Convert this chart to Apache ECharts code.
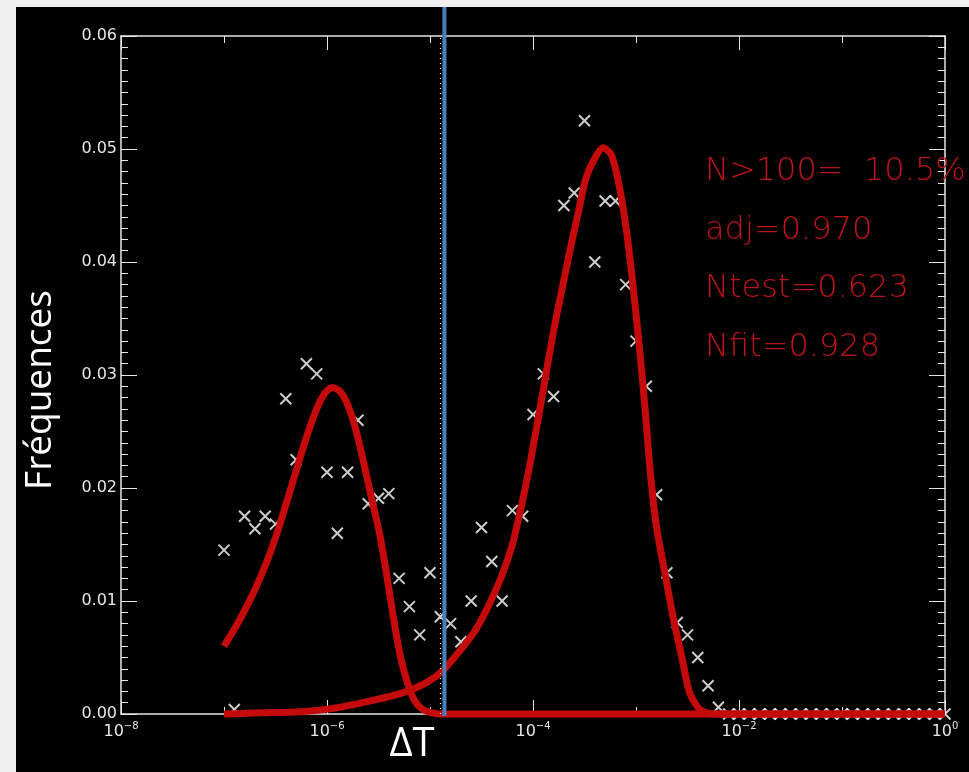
<!DOCTYPE html>
<html lang="fr">
<head>
    <meta charset="UTF-8">
    <title>Fréquences ΔT</title>
    <script src="https://cdn.jsdelivr.net/npm/echarts@6/dist/echarts.min.js"></script>
    <style>
        html, body { margin: 0; padding: 0; background: #f0f0f0; }
    </style>
</head>
<body>
<div id="main" style="width: 969px;height:772px;"></div>
<script type="text/javascript">
    // histogramme : position des classes (log10 de ΔT) et fréquences
    var binExp = [-7.0, -6.9, -6.8, -6.7, -6.6, -6.5, -6.4, -6.3, -6.2, -6.1,
        -6.0, -5.9, -5.8, -5.7, -5.6, -5.5, -5.4, -5.3, -5.2, -5.1,
        -5.0, -4.9, -4.8, -4.7, -4.6, -4.5, -4.4, -4.3, -4.2, -4.1,
        -4.0, -3.9, -3.8, -3.7, -3.6, -3.5, -3.4, -3.3, -3.2, -3.1,
        -3.0, -2.9, -2.8, -2.7, -2.6, -2.5, -2.4, -2.3, -2.2, -2.1,
        -2.0, -1.9, -1.8, -1.7, -1.6, -1.5, -1.4, -1.3, -1.2, -1.1,
        -1.0, -0.9, -0.8, -0.7, -0.6, -0.5, -0.4, -0.3, -0.2, -0.1, 0.0];
    var freq = [0.0145, 0.0004, 0.0175, 0.0164, 0.0175, 0.0168, 0.0279, 0.0225, 0.0310, 0.0301,
        0.0214, 0.0160, 0.0214, 0.0260, 0.0186, 0.0191, 0.0195, 0.0120, 0.0095, 0.0070,
        0.0125, 0.0086, 0.0080, 0.0064, 0.0100, 0.0165, 0.0135, 0.0100, 0.0180, 0.0175,
        0.0265, 0.0301, 0.0281, 0.0450, 0.0461, 0.0525, 0.0400, 0.0454, 0.0454, 0.0380,
        0.0330, 0.0290, 0.0194, 0.0125, 0.0081, 0.0070, 0.0050, 0.0025, 0.0006, 0,
        0, 0, 0, 0, 0, 0, 0, 0, 0, 0,
        0, 0, 0, 0, 0, 0, 0, 0, 0, 0, 0];

    // ajustement 1 (petit pic)
    var fit1Exp = [-7.00, -6.85, -6.70, -6.57, -6.46, -6.34, -6.21, -6.10, -6.02, -5.95,
        -5.88, -5.81, -5.73, -5.65, -5.57, -5.49, -5.42, -5.36, -5.29, -5.22,
        -5.15, -5.07, -4.98, -4.90, 0];
    var fit1Val = [0.0060, 0.0083, 0.0110, 0.0138, 0.0167, 0.0203, 0.0242, 0.0270, 0.0284, 0.0289,
        0.0286, 0.0276, 0.0255, 0.0225, 0.0192, 0.0160, 0.0123, 0.0088, 0.0052, 0.0028,
        0.0012, 0.0004, 0.0001, 0, 0];

    // ajustement 2 (grand pic)
    var fit2Exp = [-7.00, -6.65, -6.26, -5.94, -5.61, -5.29, -5.03, -4.87, -4.71, -4.56,
        -4.42, -4.30, -4.20, -4.12, -4.04, -3.97, -3.90, -3.84, -3.77, -3.70,
        -3.63, -3.56, -3.49, -3.41, -3.32, -3.24, -3.16, -3.09, -3.03, -2.96,
        -2.91, -2.86, -2.80, -2.72, -2.64, -2.55, -2.48, -2.38, -2.25, 0];
    var fit2Val = [0, 0.0001, 0.0002, 0.0005, 0.0011, 0.0018, 0.0028, 0.0039, 0.0056, 0.0074,
        0.0098, 0.0123, 0.0150, 0.0181, 0.0216, 0.0251, 0.0287, 0.0319, 0.0353, 0.0384,
        0.0415, 0.0444, 0.0473, 0.0490, 0.0501, 0.0495, 0.0466, 0.0426, 0.0380, 0.0318,
        0.0268, 0.0213, 0.0165, 0.0125, 0.0086, 0.0048, 0.0019, 0.0004, 0, 0];

    var yTicks = [0, 0.01, 0.02, 0.03, 0.04, 0.05, 0.06];
    var statLines = ['N>100=  10.5%', 'adj=0.970', 'Ntest=0.623', 'Nfit=0.928'];
    var thresholdExp = -4.9;   // seuil (pointillés blancs)
    var blueExp = -4.86;       // trait bleu ΔT

    function zip(xs, ys) {
        var out = [];
        for (var i = 0; i < xs.length; i++) {
            out.push([xs[i], ys[i]]);
        }
        return out;
    }

    var myChart = echarts.init(document.getElementById('main'));

    var axisColor = '#e6e6e6';
    var fitColor = '#c40a0a';

    var statGraphics = [];
    for (var i = 0; i < statLines.length; i++) {
        statGraphics.push({
            type: 'text',
            left: 705,
            top: 156 + i * 58.5,
            z: 50,
            style: {
                text: statLines[i],
                fill: '#bc141a',
                font: '200 32px "DejaVu Sans"'
            }
        });
    }

    // axe x (exposants), réutilisé en bas et en haut
    function xAxisDef(pos, showLabel) {
        return {
            type: 'value',
            position: pos,
            min: -8,
            max: 0,
            interval: 2,
            axisLine: {onZero: false, lineStyle: {color: axisColor, width: 1.5}},
            axisTick: {inside: true, length: 14, lineStyle: {color: axisColor}},
            minorTick: {show: true, splitNumber: 2, length: 7, lineStyle: {color: axisColor}},
            splitLine: {show: false},
            axisLabel: {
                show: showLabel,
                margin: 7,
                color: axisColor,
                formatter: function (v) {
                    var e = v < 0 ? '\u2212' + (-v) : '' + v;
                    return '{b|10}{s|' + e + '}';
                },
                rich: {
                    b: {fontSize: 16, fontFamily: 'DejaVu Sans', color: axisColor, lineHeight: 22},
                    s: {fontSize: 10, fontFamily: 'DejaVu Sans', color: axisColor, lineHeight: 10, verticalAlign: 'top'}
                }
            }
        };
    }

    function yAxisDef(pos, showLabel) {
        return {
            type: 'value',
            position: pos,
            min: yTicks[0],
            max: yTicks[yTicks.length - 1],
            interval: 0.01,
            axisLine: {show: true, onZero: false, lineStyle: {color: axisColor, width: 1.5}},
            axisTick: {show: true, inside: true, length: 16, lineStyle: {color: axisColor}},
            minorTick: {show: true, splitNumber: 10, length: 7, lineStyle: {color: axisColor}},
            splitLine: {show: false},
            axisLabel: {
                show: showLabel,
                margin: 4,
                color: axisColor,
                fontSize: 16,
                fontFamily: 'DejaVu Sans',
                formatter: function (v) { return v.toFixed(2); }
            }
        };
    }

    var option = {
        backgroundColor: '#f0f0f0',
        animation: false,
        grid: {left: 121, right: 24, top: 36, bottom: 58},
        xAxis: [xAxisDef('bottom', true), xAxisDef('top', false)],
        yAxis: [yAxisDef('left', true), yAxisDef('right', false)],
        graphic: [
            {
                id: 'panel',
                type: 'rect',
                z: -10,
                shape: {x: 16, y: 7, width: 953, height: 765},
                style: {fill: '#000'}
            },
            {
                id: 'ylabel',
                type: 'text',
                x: 40,
                y: 390,
                rotation: Math.PI / 2,
                style: {
                    text: 'Fréquences',
                    fill: '#fff',
                    font: '37px "Open Sans"',
                    textAlign: 'center',
                    textVerticalAlign: 'middle'
                }
            },
            {
                id: 'dtlabel',
                type: 'text',
                x: 412,
                y: 745,
                style: {
                    text: 'ΔT',
                    fill: '#fff',
                    font: '40px "Open Sans"',
                    textAlign: 'center',
                    textVerticalAlign: 'middle'
                }
            }
        ].concat(statGraphics),
        series: [
            {
                name: 'histogramme',
                type: 'scatter',
                clip: false,
                z: 2,
                data: zip(binExp, freq),
                symbol: 'path://M0,0L10,10M10,0L0,10',
                symbolSize: 11,
                itemStyle: {color: '#fff', borderColor: '#fff', borderWidth: 2},
                markLine: {
                    silent: true,
                    symbol: 'none',
                    label: {show: false},
                    lineStyle: {color: '#fff', type: [1, 4], width: 1.2},
                    data: [{xAxis: thresholdExp}]
                }
            },
            {
                name: 'ajustement 1',
                type: 'line',
                clip: false,
                z: 3,
                data: zip(fit1Exp, fit1Val),
                showSymbol: false,
                smooth: 0.25,
                lineStyle: {color: fitColor, width: 7}
            },
            {
                name: 'ajustement 2',
                type: 'line',
                clip: false,
                z: 3,
                data: zip(fit2Exp, fit2Val),
                showSymbol: false,
                smooth: 0.25,
                lineStyle: {color: fitColor, width: 7}
            }
        ]
    };

    myChart.setOption(option);

    // trait bleu vertical (ΔT), placé via l'axe
    var bx = myChart.convertToPixel({xAxisIndex: 0}, blueExp);
    var by0 = myChart.convertToPixel({yAxisIndex: 0}, 0);
    myChart.setOption({
        graphic: [{
            id: 'blueline',
            type: 'line',
            z: 100,
            shape: {x1: bx, y1: 7, x2: bx, y2: by0 + 2},
            style: {stroke: '#4a7ebb', lineWidth: 4}
        }]
    });
</script>
</body>
</html>
